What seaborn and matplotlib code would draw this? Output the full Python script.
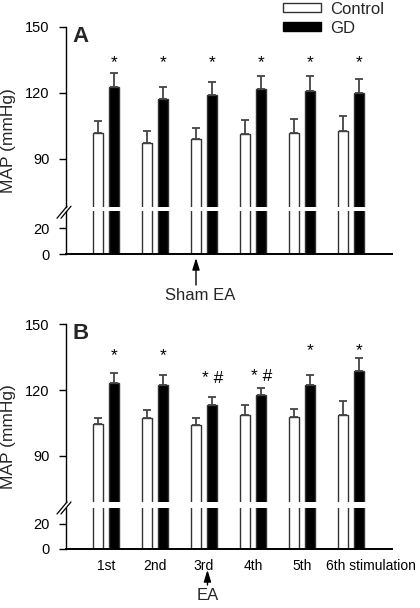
import numpy as np
import pandas as pd
import matplotlib
matplotlib.use("Agg")
import matplotlib.pyplot as plt
import matplotlib.transforms as mtransforms
from matplotlib.patches import Patch
from matplotlib.lines import Line2D
import seaborn as sns

# ---------------- data ----------------
sessions = ["1st", "2nd", "3rd", "4th", "5th", "6th stimulation"]
groups = ["Control", "GD"]

a_ctrl = [101.7, 97.4, 98.9, 101.2, 101.8, 102.9]
a_ctrl_err = [5.5, 5.2, 5.3, 6.7, 6.2, 6.6]
a_gd = [122.9, 117.4, 119.2, 121.8, 120.9, 120.0]
a_gd_err = [6.0, 5.5, 5.6, 5.8, 6.7, 6.5]

b_ctrl = [104.3, 107.1, 104.0, 108.6, 107.5, 108.6]
b_ctrl_err = [2.8, 3.6, 3.4, 4.7, 4.0, 6.2]
b_gd = [123.2, 122.4, 113.0, 117.5, 122.1, 128.7]
b_gd_err = [4.6, 4.3, 3.9, 3.4, 4.9, 5.9]

a_marks = ["*", "*", "*", "*", "*", "*"]
a_mark_y = [131.6, 131.6, 131.6, 131.6, 131.6, 131.6]
b_marks = ["*", "*", "* #", "* #", "*", "*"]
b_mark_y = [133.8, 133.8, 123.2, 124.1, 136.1, 136.1]

# ---------------- style ----------------
sns.set_style("ticks")
plt.rcParams["font.family"] = ["Liberation Sans", "DejaVu Sans"]

W, H = 420, 608
fig = plt.figure(figsize=(W / 100, H / 100), dpi=100)


def fx(px):
    return px / W


def fy(py):
    return 1 - py / H


def make_df(ctrl, gd):
    return pd.DataFrame({
        "session": sessions * 2,
        "group": ["Control"] * len(sessions) + ["GD"] * len(sessions),
        "MAP": list(ctrl) + list(gd),
    })


palette = {"Control": "white", "GD": "black"}
XLIM = (-0.816, 5.84)


def draw_panel(top_px, up_ylim, up_scale, gap_px, low_ylim, low_scale,
               ctrl, ctrl_err, gd, gd_err, marks, mark_y, letter, show_xlabels):
    left, width = fx(66), fx(392) - fx(66)
    up_h = (up_ylim[1] - up_ylim[0]) * up_scale
    up_bottom = top_px + up_h
    low_top = up_bottom + gap_px
    low_h = (low_ylim[1] - low_ylim[0]) * low_scale
    low_bottom = low_top + low_h
    ax_up = fig.add_axes([left, fy(up_bottom), width, up_h / H])
    ax_lo = fig.add_axes([left, fy(low_bottom), width, low_h / H])
    df = make_df(ctrl, gd)
    for ax in (ax_up, ax_lo):
        sns.barplot(data=df, x="session", y="MAP", hue="group", hue_order=groups,
                    palette=palette, edgecolor="#333333", linewidth=1.0,
                    width=0.673, gap=0.393, errorbar=None, legend=False, ax=ax)
        ax.set_xlim(*XLIM)
        ax.set_xlabel("")
        ax.set_ylabel("")
        sns.despine(ax=ax)
        ax.tick_params(axis="y", length=5, width=1, pad=7, labelsize=10.5, colors="black")
        ax.spines["left"].set_linewidth(1.0)
        ax.spines["left"].set_color("black")
    # error bars on the upper axis
    gd_x = None
    for cont, errs in zip(ax_up.containers, [ctrl_err, gd_err]):
        xs = [p.get_x() + p.get_width() / 2 for p in cont.patches]
        hs = [p.get_height() for p in cont.patches]
        ax_up.errorbar(xs, hs, yerr=[np.zeros(len(errs)), errs], fmt="none",
                       ecolor="#444444", elinewidth=1.3, capsize=3.2, capthick=1.3, zorder=3)
        gd_x = xs
    for x, t, y in zip(gd_x, marks, mark_y):
        ax_up.text(x, y, t, ha="center", va="baseline", fontsize=12.5, color="black")
    ax_up.set_ylim(*up_ylim)
    ax_up.set_yticks([90, 120, 150])
    ax_up.spines["bottom"].set_visible(False)
    ax_up.tick_params(axis="x", bottom=False, labelbottom=False)
    ax_lo.set_ylim(*low_ylim)
    ax_lo.set_yticks([0, 20])
    ax_lo.spines["bottom"].set_linewidth(1.4)
    ax_lo.spines["bottom"].set_color("black")
    if show_xlabels:
        ax_lo.tick_params(axis="x", length=0, pad=7, labelsize=10, colors="black")
        labels = ax_lo.get_xticklabels()
        last = labels[-1]
        last.set_horizontalalignment("left")
        last.set_transform(last.get_transform() +
                           mtransforms.ScaledTranslation(-0.245, 0, fig.dpi_scale_trans))
    else:
        ax_lo.tick_params(axis="x", bottom=False, labelbottom=False)
    # break marks
    cy = (up_bottom + low_top) / 2 + 3
    for dx in (-2, 2):
        fig.add_artist(Line2D([fx(59 + dx), fx(69 + dx)], [fy(cy + 6), fy(cy - 6)],
                              color="black", lw=0.9))
    # panel letter
    fig.text(fx(72), fy(top_px + 9), letter, fontsize=16, fontweight="bold",
             ha="left", va="center")
    # y label
    fig.text(fx(8.5), fy((top_px + low_bottom) / 2), "MAP (mmHg)", rotation=90,
             ha="center", va="center", fontsize=12.5)
    return ax_up, ax_lo


axA_up, axA_lo = draw_panel(27, (68, 150), 2.2, 3.7, (0, 33), 1.3,
                            a_ctrl, a_ctrl_err, a_gd, a_gd_err, a_marks, a_mark_y, "A", False)
axB_up, axB_lo = draw_panel(324.3, (69, 150), 2.19, 6.6, (0, 32), 1.27,
                            b_ctrl, b_ctrl_err, b_gd, b_gd_err, b_marks, b_mark_y, "B", True)

# arrows
arrow_kw = dict(arrowstyle="-|>,head_length=0.7,head_width=0.22", color="black",
                lw=1.0, shrinkA=0, shrinkB=0, mutation_scale=10)
axA_lo.annotate("", xy=(1.838, fy(258)), xycoords=("data", "figure fraction"),
                xytext=(1.838, fy(285)), textcoords=("data", "figure fraction"),
                arrowprops=arrow_kw)
axA_lo.annotate("Sham EA", xy=(1.92, fy(295)), xycoords=("data", "figure fraction"),
                ha="center", va="center", fontsize=12, annotation_clip=False)
axB_lo.annotate("", xy=(2.072, fy(570)), xycoords=("data", "figure fraction"),
                xytext=(2.072, fy(585)), textcoords=("data", "figure fraction"),
                arrowprops=arrow_kw)
axB_lo.annotate("EA", xy=(2.072, fy(595)), xycoords=("data", "figure fraction"),
                ha="center", va="center", fontsize=12, annotation_clip=False)

# legend
handles = [Patch(facecolor="white", edgecolor="#333333", linewidth=1.0, label="Control"),
           Patch(facecolor="black", edgecolor="black", label="GD")]
fig.legend(handles=handles, loc="upper left", bbox_to_anchor=(fx(281), fy(0)),
           frameon=False, fontsize=12, handlelength=2.3, handleheight=0.45,
           handletextpad=0.55, labelspacing=0.25, borderpad=0.1, borderaxespad=0)

fig.savefig("out.png", dpi=100)
